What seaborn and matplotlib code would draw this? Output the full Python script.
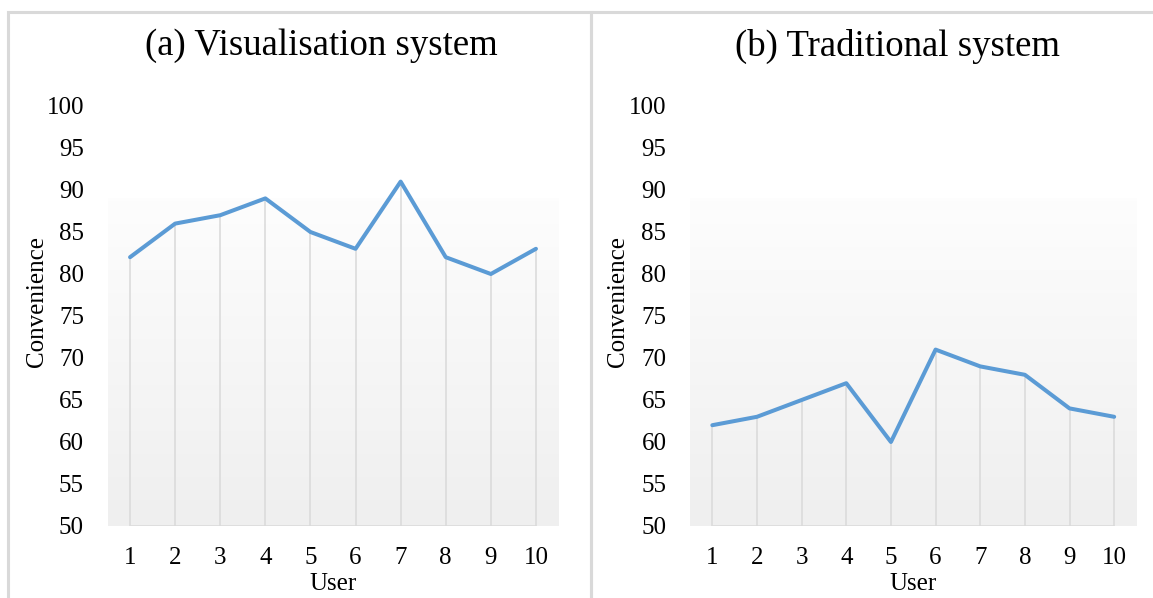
import numpy as np
import seaborn as sns
import matplotlib.pyplot as plt
from matplotlib.colors import LinearSegmentedColormap
from matplotlib.patches import Rectangle

# dados
users = [1, 2, 3, 4, 5, 6, 7, 8, 9, 10]
visual_system = [82, 86, 87, 89, 85, 83, 91, 82, 80, 83]
traditional_system = [62, 63, 65, 67, 60, 71, 69, 68, 64, 63]
titles = ['(a) Visualisation system', '(b) Traditional system']
yticks = list(range(50, 101, 5))

sns.set_style('white')
plt.rcParams['font.family'] = ['Liberation Serif', 'DejaVu Serif']
plt.rcParams['text.color'] = 'black'
plt.rcParams['axes.labelcolor'] = 'black'
plt.rcParams['xtick.color'] = 'black'
plt.rcParams['ytick.color'] = 'black'

W, H = 1153, 598
fig = plt.figure(figsize=(W / 100, H / 100), dpi=100)

line_color = '#5B9BD5'
grid_color = '#d9d9d9'
grad = LinearSegmentedColormap.from_list('grad', ['#efefef', '#fdfdfd'])

# caixas de cada painel
for x0, x1 in [(8, 591), (591, 1170)]:
    fig.patches.append(Rectangle((x0 / W, -0.05), (x1 - x0) / W, (H - 12) / H + 0.05,
                                 transform=fig.transFigure, fill=False,
                                 edgecolor=grid_color, linewidth=2.2))

# posicao dos eixos em pixels: (esquerda, direita)
boxes = [(107.5, 558.5), (690, 1136.5)]
ylabel_x = [37, 618]
title_x = [321.5, 897.5]
series = [visual_system, traditional_system]

for i in range(2):
    left, right = boxes[i]
    ax = fig.add_axes([left / W, (H - 526) / H, (right - left) / W, 420 / H])
    ax.set_facecolor('none')

    # fundo em degradê
    ax.imshow(np.linspace(0, 1, 100).reshape(-1, 1), cmap=grad, origin='lower',
              extent=(0.5, 10.5, 50, 89), aspect='auto', zorder=0)

    ax.vlines(users, 50, series[i], color=grid_color, linewidth=1.1, zorder=1)
    ax.hlines(50, users[0], users[-1], color=grid_color, linewidth=1.8, zorder=1)
    sns.lineplot(x=users, y=series[i], ax=ax, color=line_color, linewidth=2.9, zorder=3)

    ax.set_xlim(0.5, 10.5)
    ax.set_ylim(50, 100)
    ax.set_xticks(users)
    ax.set_yticks(yticks)
    ax.tick_params(axis='both', length=0, labelsize=18)
    ax.tick_params(axis='y', pad=17)
    ax.tick_params(axis='x', pad=15)
    for s in ax.spines.values():
        s.set_visible(False)

    ax.set_xlabel('User', fontsize=18)
    ax.xaxis.set_label_coords(0.5, -0.112)
    ax.set_ylabel('Convenience', fontsize=18)
    ax.yaxis.label.set(ha='center', va='center', rotation_mode='default')
    ax.yaxis.set_label_coords((ylabel_x[i] - left) / (right - left), 0.535)

    ax.text((title_x[i] - left) / (right - left), 1 + 60 / 420, titles[i],
            transform=ax.transAxes, ha='center', va='center', fontsize=26.5)

fig.savefig('out.png', dpi=100, facecolor='white')
